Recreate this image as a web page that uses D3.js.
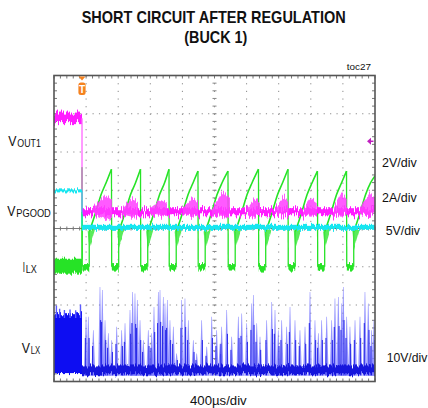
<!DOCTYPE html>
<html><head><meta charset="utf-8">
<script src="https://cdn.jsdelivr.net/npm/d3@7"></script>
<style>
html,body{margin:0;padding:0;background:#fff;}
svg{display:block;}
text{font-family:"Liberation Sans Narrow","Arial Narrow","Liberation Sans",Arial,sans-serif;fill:#111;}
</style></head><body>
<svg id="c" width="428" height="408"></svg>
<script>
// ---------------- data (read from the scope capture) ----------------
const timeDomainMs = [0, 4];          // 10 div x 400 us
const divDomain = [-4, 4];            // 8 vertical divisions
const triggerMs = 0.349;
const triggerLevelV = 3.7;

const titleLines = ["SHORT CIRCUIT AFTER REGULATION", "(BUCK 1)"];
const figureId = "toc27";
const timeBaseLabel = "400µs/div";
const scaleLabels = ["2V/div", "2A/div", "5V/div", "10V/div"];
const channelLabels = [["V", "OUT1"], ["V", "PGOOD"], ["I", "LX"], ["V", "LX"]];

// VOUT1 (V)
const vout1Before = [4.65, 5.2];
const vout1After = [-0.17, 0.2];
// bursts: [start ms, peak ms, end ms, high V, low V]
const vout1Bursts = [
  [0.486, 0.64, 0.723, 0.89, -0.42],
  [0.844, 0.98, 1.047, 0.73, -0.31],
  [1.196, 1.33, 1.408, 0.63, -0.26],
  [1.607, 1.72, 1.794, 0.73, -0.26],
  [1.969, 2.10, 2.193, 1.05, -0.26],
  [2.401, 2.50, 2.567, 0.73, -0.25],
  [2.754, 2.86, 2.920, 0.80, -0.16],
  [3.103, 3.20, 3.273, 0.73, -0.25],
  [3.480, 3.58, 3.647, 0.98, -0.25],
  [3.813, 3.93, 4.000, 0.98, -0.21]
];

// VPGOOD (V)
const pgoodBefore = [4.57, 4.97];
const pgoodAfter = [-0.33, 0.33];

// ILX (A)
const ilxBefore = [-0.36, 0.42];
const ilxDropTimes = [0.349, 0.716, 1.078, 1.433, 1.794, 2.168, 2.548, 2.916, 3.283, 3.645];
const ilxPeaks     = [5.2,   5.1,   5.1,   5.1,   5.0,   5.0,   5.1,   5.1,   5.0,   5.0];
const ilxEnd = [4.0, 4.75];
const ilxBottom = [-0.2, 0.14];
const ilxRestart = 1.85;
// ramp after each drop: [ms after drop, A]
const ilxRamp = [[0.09, 1.85], [0.112, 2.1], [0.174, 2.89], [0.237, 3.76], [0.299, 4.38]];
const ilxBlob = [[0.07, 1.9], [0.165, 2.0], [0.11, 1.2], [0.092, 0.95]];

// VLX (V)
const vlxBlock = [-0.9, 14.5];
const vlxBlockSpikes = [[0.03, 16.8], [0.07, 15.9], [0.13, 15.6], [0.2, 15.7], [0.27, 15.5], [0.33, 17.0]];
const vlxBase = [-1.2, 1.1];
const vlxSpikes = [
  [0.399,13.8],[0.428,13.8],[0.490,10.3],[0.573,21.6],[0.602,20.8],[0.636,12.9],[0.677,9.5],[0.719,7.7],
  [0.781,11.2],[0.843,10.3],[0.885,12.1],[0.947,15.6],[0.980,20.3],[1.009,19.9],[1.038,18.2],[1.072,12.9],
  [1.113,7.7],[1.175,10.3],[1.217,9.5],[1.246,16.4],[1.300,20.3],[1.321,20.8],[1.362,19.0],[1.383,17.3],
  [1.412,18.2],[1.445,12.9],[1.487,11.2],[1.528,4.2],[1.591,18.2],[1.632,18.6],[1.674,12.9],[1.736,7.7],
  [1.778,4.2],[1.840,12.9],[1.903,6.0],[1.965,13.8],[2.027,10.3],[2.069,6.8],[2.089,11.2],[2.152,15.6],
  [2.214,8.6],[2.297,13.8],[2.339,14.7],[2.401,12.1],[2.463,17.3],[2.484,19.5],[2.526,12.1],[2.567,8.6],
  [2.650,12.9],[2.713,17.7],[2.754,15.6],[2.795,10.3],[2.837,12.9],[2.899,11.2],[2.941,16.4],[3.003,12.9],
  [3.065,10.3],[3.128,11.2],[3.190,20.3],[3.252,12.9],[3.294,9.5],[3.335,12.9],[3.398,13.8],[3.460,12.9],
  [3.501,18.6],[3.543,19.0],[3.585,17.3],[3.605,21.6],[3.647,13.8],[3.688,11.2],[3.751,12.9],[3.813,13.8],
  [3.875,20.3],[3.916,17.3],[3.958,10.3],[3.987,12.9]
];

// ---------------- layout ----------------
const P = {x0: 54, x1: 375, y0: 75.5, y1: 381.5};
const svg = d3.select("#c");
const x = d3.scaleLinear().domain(timeDomainMs).range([P.x0, P.x1]);
const yDiv = d3.scaleLinear().domain(divDomain).range([P.y1, P.y0]);
// channel settings: ground position (div) and units per div
const chan = (groundDiv, perDiv) => d3.scaleLinear().domain([0, perDiv]).range([yDiv(groundDiv), yDiv(groundDiv + 1)]);
const yV1 = chan(0.43, 2), yPG = chan(0.03, 5), yIL = chan(-1.0, 2), yLX = chan(-3.69, 10);

const defs = svg.append("defs");
defs.append("clipPath").attr("id", "clip").append("rect")
  .attr("x", P.x0).attr("y", P.y0).attr("width", P.x1 - P.x0).attr("height", P.y1 - P.y0);
function noiseFilter(id, scale, fx, seed) {
  const f = defs.append("filter").attr("id", id).attr("filterUnits", "userSpaceOnUse")
    .attr("x", 0).attr("y", 0).attr("width", 428).attr("height", 408);
  f.append("feTurbulence").attr("type", "fractalNoise").attr("baseFrequency", fx + " 0.02")
    .attr("numOctaves", 2).attr("seed", seed).attr("result", "t");
  f.append("feColorMatrix").attr("in", "t").attr("type", "matrix")
    .attr("values", "0 0 0 0 0.5  0 1 0 0 0  0 0 1 0 0  0 0 0 0 1").attr("result", "m");
  f.append("feDisplacementMap").attr("in", "SourceGraphic").attr("in2", "m")
    .attr("scale", scale).attr("xChannelSelector", "R").attr("yChannelSelector", "G");
}
noiseFilter("nMag", 14, 0.9, 3);
noiseFilter("nBlue", 10, 0.8, 7);
noiseFilter("nGrn", 8, 0.9, 11);
noiseFilter("nCy", 6, 0.9, 5);

// ---------------- grid ----------------
const grid = svg.append("g");
const minorT = d3.range(0, 4.0001, 0.08), minorD = d3.range(-4, 4.0001, 0.2);
d3.range(1, 10).filter(i => i !== 5).forEach(i => {
  grid.append("line").attr("x1", x(i * 0.4)).attr("x2", x(i * 0.4)).attr("y1", P.y0).attr("y2", P.y1)
    .attr("stroke", "#8c8c8c").attr("stroke-width", 1).attr("stroke-dasharray", "1.2 6.45");
});
d3.range(-3, 4).filter(i => i !== 0).forEach(i => {
  grid.append("line").attr("y1", yDiv(i)).attr("y2", yDiv(i)).attr("x1", P.x0).attr("x2", P.x1)
    .attr("stroke", "#8c8c8c").attr("stroke-width", 1).attr("stroke-dasharray", "1.2 5.22");
});
// centre cross
grid.append("line").attr("x1", P.x0).attr("x2", P.x1).attr("y1", yDiv(0)).attr("y2", yDiv(0))
  .attr("stroke", "#7a7a7a").attr("stroke-width", 1);
grid.append("line").attr("x1", x(2)).attr("x2", x(2)).attr("y1", P.y0).attr("y2", P.y1)
  .attr("stroke", "#8c8c8c").attr("stroke-width", 1).attr("stroke-dasharray", "1.2 6.45");
grid.selectAll(".ht").data(minorT).join("line").attr("x1", d => x(d)).attr("x2", d => x(d))
  .attr("y1", yDiv(0) - 2).attr("y2", yDiv(0) + 2).attr("stroke", "#777");
grid.selectAll(".vt").data(minorD).join("line").attr("y1", d => yDiv(d)).attr("y2", d => yDiv(d))
  .attr("x1", x(2) - 2).attr("x2", x(2) + 2).attr("stroke", "#888");
// frame ticks
grid.selectAll(".ft").data(minorT).join("line").attr("x1", d => x(d)).attr("x2", d => x(d))
  .attr("y1", P.y0).attr("y2", P.y0 + 3).attr("stroke", "#777");
grid.selectAll(".fb").data(minorT).join("line").attr("x1", d => x(d)).attr("x2", d => x(d))
  .attr("y1", P.y1 - 3).attr("y2", P.y1).attr("stroke", "#777");
grid.selectAll(".fl").data(minorD).join("line").attr("y1", d => yDiv(d)).attr("y2", d => yDiv(d))
  .attr("x1", P.x0).attr("x2", P.x0 + 3).attr("stroke", "#777");
grid.selectAll(".fr").data(minorD).join("line").attr("y1", d => yDiv(d)).attr("y2", d => yDiv(d))
  .attr("x1", P.x1 - 3).attr("x2", P.x1).attr("stroke", "#777");

// ---------------- traces ----------------
const tr = svg.append("g").attr("clip-path", "url(#clip)");
const band = (g, t0, t1, ys, lo, hi, fill, filt) =>
  g.append("rect").attr("x", x(t0)).attr("width", x(t1) - x(t0))
    .attr("y", ys(hi)).attr("height", ys(lo) - ys(hi)).attr("fill", fill).attr("filter", filt ? "url(#" + filt + ")" : null);
const line = d3.line().x(d => x(d[0])).y(d => d[1]);

// VLX (blue)
const gB = tr.append("g");
band(gB, 0, triggerMs, yLX, vlxBlock[0], vlxBlock[1], "#0d0df2", "nBlue");
vlxBlockSpikes.forEach(s => gB.append("path").attr("d", line([[s[0], yLX(vlxBlock[1] - 1)], [s[0], yLX(s[1])]]))
  .attr("stroke", "#5a5aff").attr("stroke-width", 1.4));
vlxSpikes.forEach((s, i) => {
  const xc = x(s[0]), yb = yLX(0), yt = yLX(s[1]);
  gB.append("path").attr("d", `M${xc - 2.4},${yLX(-1.6)}L${xc - 1.8},${yb}L${xc - 0.3},${yt}L${xc + 0.3},${yt}L${xc + 1.8},${yb}L${xc + 2.4},${yLX(-1.6)}Z`)
    .attr("fill", "#7c7cff").attr("fill-opacity", 0.8);
  gB.append("line").attr("x1", xc + (i % 2 ? 0.7 : -0.7)).attr("x2", xc + (i % 2 ? 0.7 : -0.7))
    .attr("y1", yLX(-1.5)).attr("y2", yb + (yt - yb) * 0.6).attr("stroke", "#2323e6").attr("stroke-width", 1);
});
band(gB, triggerMs, timeDomainMs[1], yLX, vlxBase[0], vlxBase[1], "#1414dc", "nBlue");

// ILX (green)
const gG = tr.append("g");
const G = "#27e327";
band(gG, 0, triggerMs, yIL, ilxBefore[0], ilxBefore[1], G, "nGrn");
ilxDropTimes.forEach((td, k) => {
  const pk = ilxPeaks[k];
  if (k === 0) gG.append("path").attr("d", line([[td, yIL(ilxBefore[1])], [td, yIL(pk)]])).attr("stroke", G).attr("stroke-width", 1.3).attr("fill", "none");
  gG.append("path").attr("d", line([[td, yIL(pk)], [td + 0.003, yIL(0)]])).attr("stroke", G).attr("stroke-width", 1.3).attr("fill", "none");
  band(gG, td + 0.004, td + 0.09, yIL, ilxBottom[0], ilxBottom[1], G, "nGrn");
  gG.append("path").attr("d", line([[td + 0.09, yIL(0)], [td + 0.09, yIL(ilxRestart)]])).attr("stroke", G).attr("stroke-width", 1.3).attr("fill", "none");
  gG.append("path").attr("d", line(ilxBlob.map(p => [td + p[0], yIL(p[1])])) + "Z")
    .attr("fill", "#3ce83c").attr("fill-opacity", 0.85).attr("filter", "url(#nGrn)");
  const next = k + 1 < ilxDropTimes.length ? [ilxDropTimes[k + 1], ilxPeaks[k + 1]] : ilxEnd;
  const pts = ilxRamp.map(p => [td + p[0], yIL(p[1])]).concat([[next[0], yIL(next[1])]]);
  gG.append("path").attr("d", d3.line().x(d => x(d[0])).y(d => d[1]).curve(d3.curveMonotoneX)(pts))
    .attr("stroke", G).attr("stroke-width", 1.6).attr("fill", "none");
});

// VOUT1 (magenta)
const gM = tr.append("g");
const M = "#ff1aff";
band(gM, 0, triggerMs, yV1, vout1Before[0], vout1Before[1], M, "nMag");
gM.append("path").attr("d", line([[triggerMs, yV1(4.9)], [triggerMs, yV1(0)]])).attr("stroke", "#ff66ff").attr("stroke-width", 1.3);
band(gM, triggerMs, timeDomainMs[1], yV1, vout1After[0], vout1After[1], M, "nMag");
vout1Bursts.forEach(b => {
  const pts = [[b[0], yV1(vout1After[1])], [b[1], yV1(b[3])], [b[2], yV1(b[3] * 0.7)],
               [b[2], yV1(b[4] * 0.7)], [b[1], yV1(b[4])], [b[0], yV1(vout1After[0])]];
  gM.append("path").attr("d", line(pts) + "Z").attr("fill", "#ff3dff").attr("fill-opacity", 0.85).attr("filter", "url(#nMag)");
});

// VPGOOD (cyan)
const gC = tr.append("g");
const C = "#19e6f0";
band(gC, 0, triggerMs, yPG, pgoodBefore[0], pgoodBefore[1], C, "nCy");
gC.append("path").attr("d", line([[triggerMs, yPG(4.77)], [triggerMs, yPG(0)]])).attr("stroke", C).attr("stroke-width", 1);
band(gC, triggerMs, timeDomainMs[1], yPG, pgoodAfter[0], pgoodAfter[1], C, "nCy");

// frame
svg.append("rect").attr("x", P.x0).attr("y", P.y0).attr("width", P.x1 - P.x0).attr("height", P.y1 - P.y0)
  .attr("fill", "none").attr("stroke", "#555").attr("stroke-width", 1.6);

// trigger time marker
const tx = x(triggerMs);
const mk = svg.append("g");
mk.append("path").attr("d", `M${tx - 3.5},${P.y0 + 1}L${tx + 3.5},${P.y0 + 1}L${tx},${P.y0 + 5}Z`).attr("fill", "#f5821f");
mk.append("rect").attr("x", tx - 3.6).attr("y", P.y0 + 7).attr("width", 7.2).attr("height", 12.5).attr("rx", 2.5).attr("fill", "#f5821f");
mk.append("text").attr("x", tx).attr("y", P.y0 + 17.5).attr("text-anchor", "middle").attr("font-size", 10)
  .attr("font-weight", "bold").style("fill", "#fff").text("T");
// trigger level marker
const ty = yV1(triggerLevelV);
svg.append("path").attr("d", `M${P.x1 - 8},${ty}L${P.x1 - 4},${ty - 3.5}L${P.x1 - 4},${ty + 3.5}Z`).attr("fill", "#c020c0");
svg.append("line").attr("x1", P.x1 - 5).attr("x2", P.x1 - 1.5).attr("y1", ty).attr("y2", ty).attr("stroke", "#c020c0").attr("stroke-width", 1.5);

// ---------------- text ----------------
const T = (s, xx, yy, size, len, opts = {}) => {
  const t = svg.append("text").attr("x", xx).attr("y", yy).attr("font-size", size)
    .attr("textLength", len).attr("lengthAdjust", "spacingAndGlyphs");
  if (opts.bold) t.attr("font-weight", "bold");
  if (opts.family) t.style("font-family", opts.family);
  t.text(s);
  return t;
};
T(titleLines[0], 81.7, 23.3, 17, 264, {bold: true});
T(titleLines[1], 184.3, 43.3, 16, 63, {bold: true});
T(figureId, 346.7, 70, 9.5, 24.3, {family: "'Liberation Sans',Arial,sans-serif"});
T(timeBaseLabel, 190, 404.5, 12.5, 56.7);
T(scaleLabels[0], 382, 166.5, 12, 34.7);
T(scaleLabels[1], 382, 201.7, 12, 34.7);
T(scaleLabels[2], 385.7, 235, 12, 34.3);
T(scaleLabels[3], 386.7, 361.7, 12, 40.6);

// channel labels: main letter + subscript as separate texts
const labelPos = [[8.3, 146, 9, 23.5], [7.3, 216, 9, 34.5], [22.7, 272, 3, 11], [21.7, 352.7, 9, 9.5]];
channelLabels.forEach((lab, i) => {
  const [lx, ly, mw, sw] = labelPos[i];
  T(lab[0], lx, ly, 14, mw - 0.8);
  T(lab[1], lx + mw, ly + 1.2, 10.5, sw);
});
</script></body></html>
